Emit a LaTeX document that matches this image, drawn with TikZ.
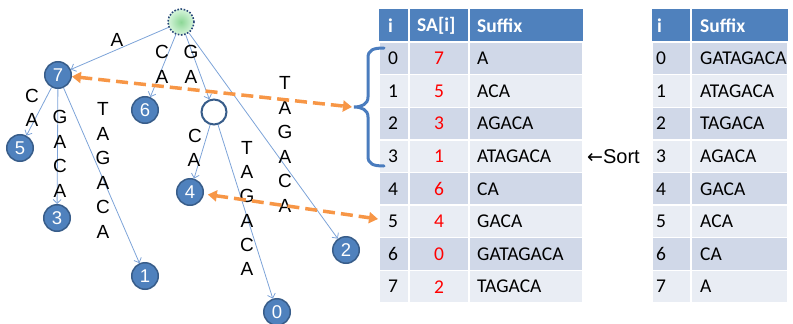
\documentclass[tikz,border=0pt]{standalone}
\usepackage{fontspec}
\setmainfont{Liberation Sans}
\newfontfamily\calfont{Carlito}
\newfontfamily\arrowfont{DejaVu Sans}
\usetikzlibrary{arrows.meta,shadings}
\definecolor{nodeblue}{RGB}{79,129,189}
\definecolor{nodeborder}{RGB}{56,93,138}
\definecolor{edgeblue}{RGB}{125,163,216}
\definecolor{orangeA}{RGB}{247,150,70}
\definecolor{rowdark}{RGB}{208,216,232}
\definecolor{rowlight}{RGB}{233,237,244}
\definecolor{rootgreen}{RGB}{140,215,150}
\definecolor{rootpale}{RGB}{215,245,220}
\definecolor{braceblue}{RGB}{74,124,190}
\definecolor{dotblue}{RGB}{40,70,120}
\tikzset{
  tnode/.style={circle, fill=nodeblue, draw=nodeborder, line width=1.5pt, minimum size=26.5pt, inner sep=0pt, text=white, font=\fontsize{18.5}{18.5}\selectfont},
  emptynode/.style={circle, fill=white, draw=nodeborder, line width=2pt, minimum size=25pt, inner sep=0pt},
  rootnode/.style={circle, inner color=rootgreen, outer color=rootpale, draw=dotblue, line width=1.6pt, dash pattern=on 1.6pt off 1.6pt, minimum size=26pt, inner sep=0pt},
  edge/.style={draw=edgeblue, line width=0.8pt, -{Straight Barb[length=4pt,width=8pt]}},
  lbl/.style={font=\fontsize{19}{19}\selectfont, inner sep=0pt},
  oarrow/.style={draw=orangeA, line width=3.5pt, dash pattern=on 12pt off 6pt, {Triangle[length=9pt,width=11pt]}-{Triangle[length=9pt,width=11pt]}},
  cellfill/.style={draw=white, line width=1.3pt},
  ttext/.style={font=\calfont\fontsize{19.5}{19.5}\selectfont, inner sep=0pt, anchor=west},
  htext/.style={font=\calfont\bfseries\fontsize{19.5}{19.5}\selectfont, text=white, inner sep=0pt, anchor=west},
  satext/.style={font=\calfont\fontsize{19.5}{19.5}\selectfont, text=red, inner sep=0pt}
}
\begin{document}
\begin{tikzpicture}[x=1pt,y=-1pt]
\useasboundingbox (0,0) rectangle (793,324);

% ---------- tree ----------
\node[rootnode] (root) at (181,22) {};
\node[tnode] (n7) at (58,75) {7};
\node[tnode] (n6) at (145,110) {6};
\node[tnode] (n5) at (20,148) {5};
\node[tnode] (n3) at (57,218) {3};
\node[tnode] (n1) at (145,276) {1};
\node[tnode] (n4) at (190,192) {4};
\node[emptynode] (ne) at (214,112) {};
\node[tnode] (n0) at (277,312) {0};
\node[tnode] (n2) at (346,250) {2};

\draw[edge] (root) -- (n7);
\draw[edge] (root) -- (n6);
\draw[edge] (root) -- (ne);
\draw[edge] (root) -- (n2);
\draw[edge] (n7) -- (n5);
\draw[edge] (n7) -- (n3);
\draw[edge] (n7) -- (n1);
\draw[edge] (ne) -- (n4);
\draw[edge] (ne) -- (n0);

% edge labels
\node[lbl] (la) at (117,40) {A};
\node[lbl] (lc1) at (162,52) {C};
\node[lbl] (lc2) at (162,77) {A};
\node[lbl] (lg1) at (191,52) {G};
\node[lbl] (lg2) at (191,77) {A};
\foreach \ch [count=\i from 0] in {T,A,G,A,C,A}
  \node[lbl] (lt\i) at (285,{83+24.5*\i}) {\ch};
\node[lbl] (l5a) at (32,96) {C};
\node[lbl] (l5b) at (32,120) {A};
\foreach \ch [count=\i from 0] in {G,A,C,A}
  \node[lbl] (l3\i) at (60,{117+24.5*\i}) {\ch};
\foreach \ch [count=\i from 0] in {T,A,G,A,C,A}
  \node[lbl] (l1\i) at (103,{109+24.5*\i}) {\ch};
\node[lbl] (l4a) at (195,136) {C};
\node[lbl] (l4b) at (194,160) {A};
\foreach \ch [count=\i from 0] in {T,A,G,A,C,A}
  \node[lbl] (l0\i) at (247,{148+24.2*\i}) {\ch};

% ---------- table 1 ----------
\fill[nodeblue] (379,9) rectangle (583,42);
\draw[white, line width=1.3pt] (409,9) -- (409,42) (469,9) -- (469,42);
\node[htext] (h1i) at (388,25.5) {i};
\node[htext] (h1sa) at (417,25.5) {SA[i]};
\node[htext] (h1s) at (477,25.5) {Suffix};
\foreach \k/\sa/\suf in {0/7/A,1/5/ACA,2/3/AGACA,3/1/ATAGACA,4/6/CA,5/4/GACA,6/0/GATAGACA,7/2/TAGACA}{
  \ifodd\k \def\rc{rowlight}\else\def\rc{rowdark}\fi
  \pgfmathsetmacro\ya{42+32.625*\k}
  \pgfmathsetmacro\yb{42+32.625*(\k+1)}
  \pgfmathsetmacro\yc{42+32.625*(\k+0.5)}
  \filldraw[cellfill, fill=\rc] (379,\ya) rectangle (409,\yb);
  \filldraw[cellfill, fill=\rc] (409,\ya) rectangle (469,\yb);
  \filldraw[cellfill, fill=\rc] (469,\ya) rectangle (583,\yb);
  \node[ttext] (ai\k) at (388,\yc) {\k};
  \node[satext] (asa\k) at (439,\yc) {\sa};
  \node[ttext] (as\k) at (477,\yc) {\suf};
}

% ---------- table 2 ----------
\fill[nodeblue] (652,9) rectangle (788,42);
\draw[white, line width=1.3pt] (691,9) -- (691,42);
\node[htext] (h2i) at (657,25.5) {i};
\node[htext] (h2s) at (700,25.5) {Suffix};
\foreach \k/\suf in {0/GATAGACA,1/ATAGACA,2/TAGACA,3/AGACA,4/GACA,5/ACA,6/CA,7/A}{
  \ifodd\k \def\rc{rowlight}\else\def\rc{rowdark}\fi
  \pgfmathsetmacro\ya{42+32.625*\k}
  \pgfmathsetmacro\yb{42+32.625*(\k+1)}
  \pgfmathsetmacro\yc{42+32.625*(\k+0.5)}
  \filldraw[cellfill, fill=\rc] (652,\ya) rectangle (691,\yb);
  \filldraw[cellfill, fill=\rc] (691,\ya) rectangle (788,\yb);
  \node[ttext] (bi\k) at (656,\yc) {\k};
  \node[ttext] (bs\k) at (700,\yc) {\suf};
}

% sort label
\node[font=\fontsize{20}{20}\selectfont, inner sep=0pt, anchor=west] (sort) at (587,157) {{\arrowfont\fontsize{19}{19}\selectfont ←}Sort};

% brace
\draw[braceblue, line width=3pt, line cap=round]
  (384,48) .. controls (373,48) and (368,50) .. (368,58) -- (368,97)
  .. controls (368,104) and (362,107) .. (354,107)
  .. controls (362,107) and (368,110) .. (368,117) -- (368,156)
  .. controls (368,164) and (373,166) .. (384,166);
\coordinate (bt) at (352,107);
\coordinate (r5) at (378,219);

% orange arrows
\draw[oarrow] (n7) -- (bt);
\draw[oarrow, shorten <=4pt] (n4) -- (r5);
\end{tikzpicture}
\end{document}
